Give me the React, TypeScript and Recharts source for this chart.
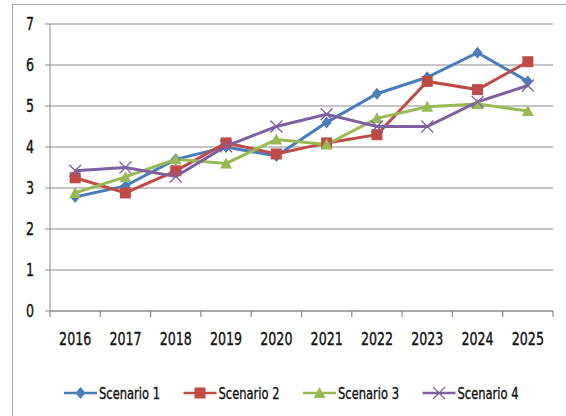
import React from 'react';
import { LineChart, Line, XAxis, YAxis, CartesianGrid, Legend } from 'recharts';

const years = ['2016', '2017', '2018', '2019', '2020', '2021', '2022', '2023', '2024', '2025'];
const scenario1 = [2.78, 3.05, 3.7, 4.0, 3.78, 4.6, 5.3, 5.7, 6.3, 5.6];
const scenario2 = [3.25, 2.88, 3.42, 4.1, 3.83, 4.1, 4.3, 5.6, 5.4, 6.08];
const scenario3 = [2.88, 3.27, 3.7, 3.6, 4.18, 4.06, 4.7, 4.98, 5.05, 4.88];
const scenario4 = [3.42, 3.5, 3.28, 4.02, 4.5, 4.8, 4.5, 4.5, 5.1, 5.5];
const yTicks = [0, 1, 2, 3, 4, 5, 6, 7];

const data = years.map((year, i) => ({
  i,
  year,
  s1: scenario1[i],
  s2: scenario2[i],
  s3: scenario3[i],
  s4: scenario4[i],
}));

// labels sit on the category centres, tick marks on the boundaries between them
const xTicks = [-0.5, ...years.flatMap((_, i) => [i, i + 0.5])];

const FONT = '"DejaVu Sans Condensed", "DejaVu Sans", sans-serif';
const TICK_SIZE = 6;
const TICK_MARGIN = 12;

const series = [
  { key: 's1', name: 'Scenario 1', color: '#4a7ebb', shape: 'diamond' },
  { key: 's2', name: 'Scenario 2', color: '#be4b48', shape: 'square' },
  { key: 's3', name: 'Scenario 3', color: '#98b954', shape: 'triangle' },
  { key: 's4', name: 'Scenario 4', color: '#7d60a0', shape: 'cross' },
];

const Marker = ({ cx, cy, shape, color }: { cx: number; cy: number; shape: string; color: string }) => {
  if (shape === 'diamond') {
    return <polygon points={`${cx},${cy - 6} ${cx + 5},${cy} ${cx},${cy + 6} ${cx - 5},${cy}`} fill={color} />;
  }
  if (shape === 'square') {
    return <rect x={cx - 5.5} y={cy - 5.5} width={11} height={11} fill={color} />;
  }
  if (shape === 'triangle') {
    return <polygon points={`${cx},${cy - 6} ${cx + 6},${cy + 5} ${cx - 6},${cy + 5}`} fill={color} />;
  }
  return (
    <g stroke={color} strokeWidth={1.3}>
      <line x1={cx - 6} y1={cy - 6} x2={cx + 6} y2={cy + 6} />
      <line x1={cx - 6} y1={cy + 6} x2={cx + 6} y2={cy - 6} />
    </g>
  );
};

// squeezed text so the condensed font looks like the narrow original
const NarrowText = ({ x, y, anchor, size = 18, squeeze = 0.78, children }: any) => (
  <text
    transform={`translate(${x},${y}) scale(${squeeze},1)`}
    textAnchor={anchor}
    dominantBaseline="central"
    fill="#111"
    stroke="#111"
    strokeWidth={0.35}
    fontFamily={FONT}
    fontSize={size}
  >
    {children}
  </text>
);

const XTick = ({ x, y, payload }: any) => {
  const v = payload.value;
  if (!Number.isInteger(v)) {
    const axisY = y - TICK_SIZE - TICK_MARGIN;
    return <line x1={x} x2={x} y1={axisY} y2={axisY + TICK_SIZE} stroke="#8a8a8a" strokeWidth={1.2} />;
  }
  return (
    <NarrowText x={x} y={y + 10} anchor="middle">
      {years[v]}
    </NarrowText>
  );
};

const YTick = ({ x, y, payload }: any) => (
  <NarrowText x={x} y={y} anchor="end">
    {payload.value}
  </NarrowText>
);

const LegendContent = () => (
  <svg width={566} height={30}>
    {series.map((s, i) => {
      const x0 = 64 + i * 119.5;
      return (
        <g key={s.key}>
          <line x1={x0} y1={15} x2={x0 + 33} y2={15} stroke={s.color} strokeWidth={2.5} />
          <Marker cx={x0 + 16.5} cy={15} shape={s.shape} color={s.color} />
          <NarrowText x={x0 + 35} y={15} anchor="start" size={16} squeeze={0.8}>
            {s.name}
          </NarrowText>
        </g>
      );
    })}
  </svg>
);

export default function App() {
  return (
    <div style={{ position: 'absolute', left: 0, top: 0, width: 566, height: 416, background: '#fff', overflow: 'hidden' }}>
      <div
        style={{
          position: 'absolute',
          left: 12,
          top: 4,
          width: 600,
          height: 500,
          borderLeft: '1px solid #a6a6a6',
          borderTop: '1px solid #a6a6a6',
        }}
      />
      <LineChart width={566} height={416} data={data} margin={{ top: 24, right: 13, left: 0, bottom: 35 }}>
        <CartesianGrid vertical={false} stroke="#8a8a8a" strokeWidth={1.2} />
        <XAxis
          dataKey="i"
          type="number"
          domain={[-0.5, 9.5]}
          ticks={xTicks}
          stroke="#8a8a8a"
          tickLine={false}
          tickSize={TICK_SIZE}
          tickMargin={TICK_MARGIN}
          height={40}
          tick={<XTick />}
          interval={0}
        />
        <YAxis
          domain={[0, 7]}
          ticks={yTicks}
          width={50}
          stroke="#8a8a8a"
          tickSize={5}
          tickMargin={11}
          tick={<YTick />}
        />
        <Legend
          verticalAlign="bottom"
          height={30}
          content={<LegendContent />}
          wrapperStyle={{ top: 378, left: 0, width: 566 }}
        />
        {series.map((s) => (
          <Line
            key={s.key}
            dataKey={s.key}
            name={s.name}
            stroke={s.color}
            strokeWidth={3}
            isAnimationActive={false}
            dot={(p: any) => <Marker key={`${s.key}-${p.index}`} cx={p.cx} cy={p.cy} shape={s.shape} color={s.color} />}
          />
        ))}
      </LineChart>
    </div>
  );
}
